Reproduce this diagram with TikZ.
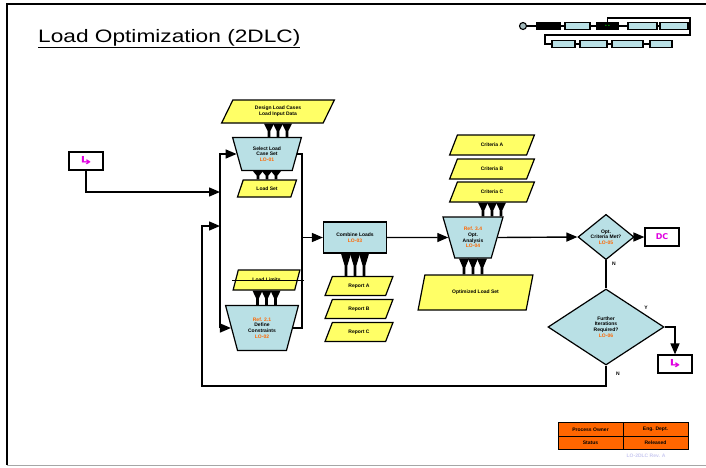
\documentclass[tikz,border=0pt]{standalone}
\usepackage{fontspec}
\setmainfont{Liberation Sans}
\newfontfamily\symfont{DejaVu Sans}
\usepackage{tikz}
\usetikzlibrary{shapes.geometric, positioning, arrows.meta, calc}

\definecolor{procblue}{RGB}{185,224,229}
\definecolor{datayellow}{RGB}{255,255,102}
\definecolor{tagorange}{RGB}{255,102,0}
\definecolor{linkpink}{RGB}{224,0,224}
\definecolor{pagelilac}{RGB}{200,200,240}

% three black data plugs between two shapes
\newcommand{\plugs}[2]{%
  \path (#1.south) coordinate (pA) (#1.south |- #2.north) coordinate (pB);
  \foreach \dx in {-9,0,9}
    \fill ($(pA)+(\dx-5,0)$) -- ($(pA)+(\dx+5,0)$)
      -- ($(pA)!.55!(pB)+(\dx+1.3,0)$) -- ($(pB)+(\dx+1.3,0)$)
      -- ($(pB)+(\dx-1.3,0)$) -- ($(pA)!.55!(pB)+(\dx-1.3,0)$) -- cycle;}

\begin{document}
\begin{tikzpicture}[x=1pt, y=-1pt,
    line/.style={line width=1.4pt},
    flow/.style={line, -{Triangle[length=11pt,width=9pt]}},
    tiny/.style={font=\fontsize{5}{5.6}\selectfont\bfseries, align=center},
    process/.style={tiny, draw, line width=1.2pt, fill=procblue, inner sep=1pt},
    manual/.style={process, trapezium, shape border rotate=180,
      trapezium angle=72, trapezium stretches=true},
    data/.style={tiny, draw, line width=1.2pt, fill=datayellow, inner sep=1pt,
      trapezium, trapezium left angle=64, trapezium right angle=116,
      trapezium stretches=true},
    decision/.style={process, diamond, inner sep=0pt},
    terminal/.style={draw, line width=1.2pt, fill=white, minimum width=34pt,
      minimum height=18pt, inner sep=0pt, text=linkpink,
      font=\symfont\fontsize{11}{11}\selectfont\bfseries},
    mini/.style={draw, line width=1.1pt, fill=procblue, minimum height=7pt,
      inner sep=0pt},
    cell/.style={tiny, draw, line width=0.8pt, fill=tagorange,
      minimum width=65pt, minimum height=13.5pt, inner sep=0pt}]
  \useasboundingbox (0,0) rectangle (706,467);
  % frame and title
  \draw[line width=1.5pt] (7,465) -- (7,4) -- (706,4);
  \draw[line width=1pt, gray!70] (7,465) -- (706,465);
  \node[anchor=base west, inner sep=0pt,
    font=\fontsize{18}{20}\selectfont] (title) at (38,42)
    {\scalebox{1.26}[1]{\underline{Load Optimization (2DLC)}}};

  % road map
  \node[mini, circle, minimum size=7pt, fill=procblue!60!gray] (map0) at (523,26) {};
  \node[mini, fill=black, minimum width=23pt] (map1) at (548.5,26) {};
  \node[mini, minimum width=25pt] (map2) at (577.5,26) {};
  \node[mini, fill=black, minimum width=21pt, text=green!80!black,
    font=\fontsize{5}{5}\selectfont] (map3) at (607.5,26) {• •};
  \node[mini, minimum width=29pt] (map4) at (642.5,26) {};
  \node[mini, minimum width=28pt] (map5) at (674,26) {};
  \node[mini, minimum width=23pt] (mapB1) at (563.5,44) {};
  \node[mini, minimum width=27pt] (mapB2) at (593.5,44) {};
  \node[mini, minimum width=31pt] (mapB3) at (627.5,44) {};
  \node[mini, minimum width=22pt] (mapB4) at (661,44) {};
  \draw[line width=1.1pt] (map0) -- (map1) -- (map2) -- (map3) -- (map4) -- (map5);
  \draw[line width=1.1pt] (map3.north) |- (690,18) |- (545,35) |- (mapB1.west);
  \draw[line width=1.1pt] (mapB1) -- (mapB2) -- (mapB3) -- (mapB4);

  % load case selection
  \node[terminal] (start) at (86,161) {\scalebox{1.6}[1]{↳}};
  \node[data, minimum width=113pt, minimum height=23pt] (topIn) at (278,111.5)
    {Design Load Cases\\Load Input Data};
  \node[manual, minimum width=69pt, minimum height=33pt] (topProc) at (267,154)
    {Select Load\\Case Set\\\textcolor{tagorange}{LO-01}};
  \node[data, minimum width=59pt, minimum height=17pt] (topOut) at (267,188.5)
    {Load Set};
  \node[data, minimum width=67pt, minimum height=20pt] (botIn) at (266.5,280)
    {Load Limits};
  \node[manual, minimum width=73pt, minimum height=45pt] (botProc) at (262,328)
    {\textcolor{tagorange}{Ref. 2.1}\\Define\\Constraints\\\textcolor{tagorange}{LO-02}};
  \draw[line width=1pt] ([xshift=-3pt]botIn.west) -- ([xshift=6pt]botIn.east);

  % combination and analysis
  \node[process, minimum width=63pt, minimum height=31pt] (mid) at (355,237.5)
    {Combine Loads\\\textcolor{tagorange}{LO-03}};
  \node[data, minimum width=68pt, minimum height=19pt] (midOut1) at (359,286) {Report A};
  \node[data, minimum width=68pt, minimum height=19pt] (midOut2) at (359,309) {Report B};
  \node[data, minimum width=68pt, minimum height=19pt] (midOut3) at (359,332) {Report C};
  \node[data, minimum width=85pt, minimum height=20pt] (rightIn1) at (492,145) {Criteria A};
  \node[data, minimum width=85pt, minimum height=20pt] (rightIn2) at (492,169) {Criteria B};
  \node[data, minimum width=85pt, minimum height=20pt] (rightIn3) at (492,192) {Criteria C};
  \node[manual, minimum width=60pt, minimum height=41pt] (rightProc) at (473,237.5)
    {\textcolor{tagorange}{Ref. 3.4}\\Opt.\\Analysis\\\textcolor{tagorange}{LO-04}};
  \node[data, minimum width=115pt, minimum height=35pt] (rightOut) at (475.5,292.5)
    {Optimized Load Set};

  % decisions
  \node[decision, minimum width=56pt, minimum height=44pt] (dec1) at (606,237)
    {Opt.\\Criteria Met?\\\textcolor{tagorange}{LO-05}};
  \node[terminal] (end1) at (662,237) {\fontsize{8}{8}\selectfont DC};
  \node[decision, minimum width=116pt, minimum height=76pt] (dec2) at (606,327)
    {Further\\Iterations\\Required?\\\textcolor{tagorange}{LO-06}};
  \node[terminal] (end2) at (675,364) {\scalebox{1.6}[1]{↳}};
  \node[tiny] (lblN1) at (614,264) {N};
  \node[tiny] (lblY2) at (646,308) {Y};
  \node[tiny] (lblN2) at (618,374) {N};

  % plugs
  \plugs{topIn}{topProc}
  \plugs{topProc}{topOut}
  \plugs{botIn}{botProc}
  \plugs{mid}{midOut1}
  \plugs{rightIn3}{rightProc}
  \plugs{rightProc}{rightOut}

  % connectors
  \coordinate (bus) at (220,0);
  \coordinate (busR) at (302,0);
  \coordinate (join1) at (220,192);
  \coordinate (join2) at (220,226);
  \coordinate (loop) at (202,386);
  \draw[flow] (bus |- botProc.west) |- (topProc.west);
  \draw[flow] (bus |- botProc.west) -- (botProc.west);
  \draw[flow] (start.south) |- (join1);
  \draw[flow] (dec2.south) |- (loop) |- (join2);
  \draw[line] (topProc.east) -| (busR |- botProc.east) -- (botProc.east);
  \draw[flow] (busR |- mid.west) -- (mid.west);
  \draw[flow] (mid.east) -- (rightProc.west);
  \draw[flow] (rightProc.east) -- (dec1.west);
  \draw[flow] (dec1.east) -- (end1.west);
  \draw[line] (dec1.south) -- (dec2.north);
  \draw[flow] (dec2.east) -| (end2.north);

  % owner table
  \node[cell] (ownerKey) at (590.5,429.5) {Process Owner};
  \node[cell] (ownerVal) at (655.5,429.5) {Eng. Dept.};
  \node[cell] (statusKey) at (590.5,443) {Status};
  \node[cell] (statusVal) at (655.5,443) {Released};
  \node[tiny, text=pagelilac] (page) at (646,456) {LO-2DLC Rev. A};
\end{tikzpicture}
\end{document}
